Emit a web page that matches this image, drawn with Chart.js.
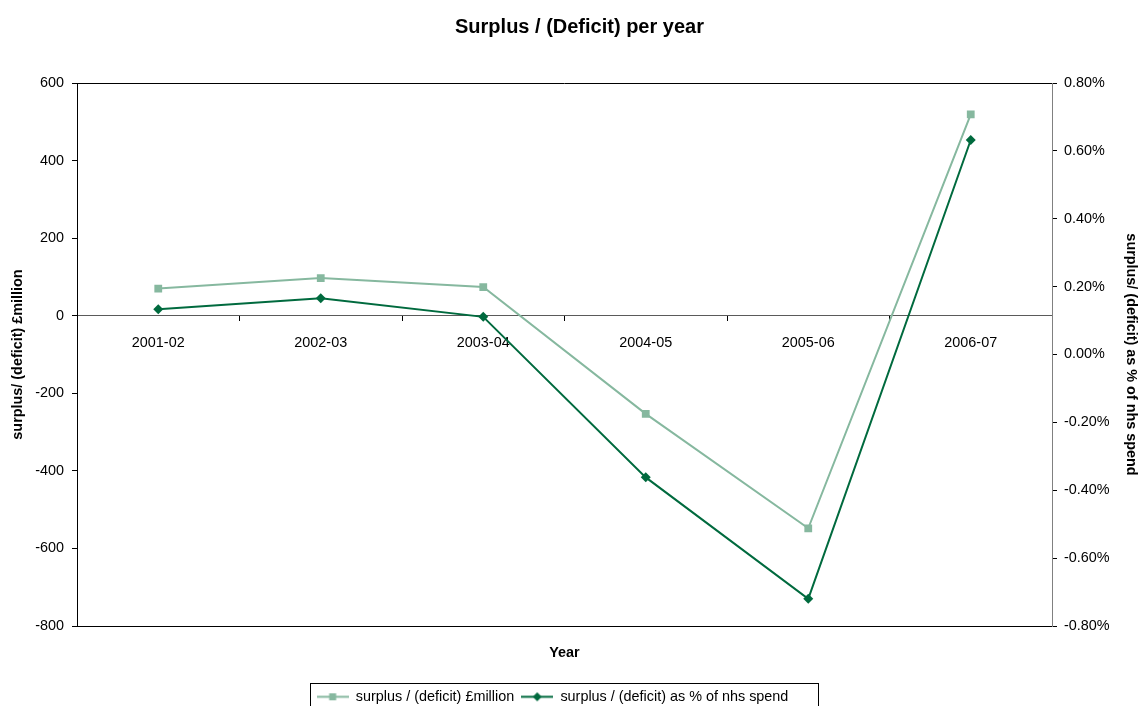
<!DOCTYPE html>
<html>
<head>
<meta charset="utf-8">
<title>Surplus / (Deficit) per year</title>
<script src="https://cdn.jsdelivr.net/npm/chart.js@4/dist/chart.umd.min.js"></script>
<style>
  html, body { margin: 0; padding: 0; background: #fff; overflow: hidden; }
  #chart { display: block; }
</style>
</head>
<body>
<canvas id="chart" width="1140" height="714"></canvas>
<script>
const years = ['2001-02', '2002-03', '2003-04', '2004-05', '2005-06', '2006-07'];
const surplusMillion = [70, 97, 74, -253, -548, 519];
const surplusPct = [0.133, 0.166, 0.111, -0.362, -0.720, 0.632];
const millionTicks = { min: -800, max: 600, step: 200 };
const pctTicks = { min: -0.8, max: 0.8, step: 0.2 };

const LIGHT = '#86b89f';
const DARK = '#006a3e';
const FONT = "'Liberation Sans', Arial, sans-serif";
const TXT = 14.4;

Chart.defaults.font.family = FONT;
Chart.defaults.font.size = TXT;
Chart.defaults.color = '#000';

// little line + marker swatch for the legend, like the spreadsheet one
function swatch(color, style) {
  const c = document.createElement('canvas');
  c.width = 32;
  c.height = 11;
  const g = c.getContext('2d');
  g.strokeStyle = color;
  g.fillStyle = color;
  g.lineWidth = 2;
  g.beginPath();
  g.moveTo(0, 5.5);
  g.lineTo(32, 5.5);
  g.stroke();
  g.beginPath();
  if (style === 'rect') {
    g.rect(12.5, 2, 7, 7);
  } else {
    g.moveTo(16, 1); g.lineTo(20.5, 5.5); g.lineTo(16, 10); g.lineTo(11.5, 5.5); g.closePath();
  }
  g.fill();
  return c;
}
const legendIcons = [swatch(LIGHT, 'rect'), swatch(DARK, 'diamond')];

const framePlugin = {
  id: 'frame',
  afterLayout(chart) {
    // spreadsheet title sits a little right of centre, legend a little left
    if (chart.titleBlock) chart.titleBlock.left = 19;
    const lg = chart.legend;
    if (lg) {
      lg.left -= 24;
      if (typeof lg.adjustHitBoxes === 'function') lg.adjustHitBoxes();
    }
  },
  afterDraw(chart) {
    const { ctx, chartArea: a, legend } = chart;
    ctx.save();
    ctx.strokeStyle = '#000';
    ctx.lineWidth = 1;
    ctx.beginPath();
    ctx.moveTo(a.left, Math.round(a.top) + 0.5);
    ctx.lineTo(a.right, Math.round(a.top) + 0.5);
    ctx.stroke();
    const hb = legend.legendHitBoxes;
    if (hb && hb.length) {
      const last = hb[hb.length - 1];
      const x0 = Math.round(hb[0].left - 7) + 0.5;
      const x1 = Math.round(last.left + last.width + 30) + 0.5;
      const y0 = Math.round(legend.top) + 0.5;
      ctx.strokeRect(x0, y0, x1 - x0, chart.height - y0 + 5);
    }
    ctx.restore();
  },
};

new Chart(document.getElementById('chart'), {
  type: 'line',
  data: {
    labels: years,
    datasets: [
      {
        label: 'surplus / (deficit) £million',
        data: surplusMillion,
        yAxisID: 'y',
        xAxisID: 'x',
        borderColor: LIGHT,
        backgroundColor: LIGHT,
        borderWidth: 2,
        pointStyle: 'rect',
        pointRadius: 5.5,
        pointBorderWidth: 0,
        tension: 0,
      },
      {
        label: 'surplus / (deficit) as % of nhs spend',
        data: surplusPct,
        yAxisID: 'y1',
        xAxisID: 'x',
        borderColor: DARK,
        backgroundColor: DARK,
        borderWidth: 2,
        pointStyle: 'rectRot',
        pointRadius: 5,
        pointBorderWidth: 0,
        tension: 0,
      },
    ],
  },
  options: {
    responsive: false,
    animation: false,
    layout: { padding: 0 },
    plugins: {
      title: {
        display: true,
        text: 'Surplus / (Deficit) per year',
        font: { size: 20, weight: 'bold' },
        color: '#000',
        padding: { top: 15, bottom: 44 },
      },
      legend: {
        position: 'bottom',
        fullSize: false,
        labels: {
          usePointStyle: true,
          pointStyleWidth: 32,
          padding: 7,
          font: { size: TXT },
          color: '#000',
          generateLabels(chart) {
            const items = Chart.defaults.plugins.legend.labels.generateLabels(chart);
            items.forEach((it, i) => { it.pointStyle = legendIcons[i]; });
            return items;
          },
        },
      },
      tooltip: { enabled: false },
    },
    scales: {
      x: {
        type: 'category',
        position: { y: 0 },
        offset: true,
        grid: { offset: true, drawOnChartArea: false, tickLength: 5, color: '#000' },
        border: { color: '#5a5a5a', width: 1 },
        ticks: { maxRotation: 0, autoSkip: false, padding: 14, font: { size: TXT }, color: '#000' },
      },
      x2: {
        type: 'category',
        position: 'bottom',
        offset: true,
        grid: { display: false, drawTicks: false },
        border: { display: true, color: '#000', width: 1 },
        ticks: { display: false },
        title: {
          display: true,
          text: 'Year',
          font: { size: TXT, weight: 'bold' },
          color: '#000',
          padding: { top: 18.3, bottom: 21 },
        },
      },
      y: {
        position: 'left',
        min: millionTicks.min,
        max: millionTicks.max,
        ticks: { stepSize: millionTicks.step, padding: 8, font: { size: TXT }, color: '#000' },
        grid: { drawOnChartArea: false, tickLength: 5, color: '#000' },
        border: { color: '#000', width: 1 },
        title: {
          display: true,
          text: 'surplus/ (deficit) £million',
          font: { size: TXT, weight: 'bold' },
          color: '#000',
          padding: { top: 9.5, bottom: 0 },
        },
        afterFit(scale) { scale.width = 77; },
      },
      y1: {
        position: 'right',
        min: pctTicks.min,
        max: pctTicks.max,
        ticks: {
          stepSize: pctTicks.step,
          padding: 7,
          font: { size: TXT },
          color: '#000',
          callback: (v) => v.toFixed(2) + '%',
        },
        grid: { drawOnChartArea: false, tickLength: 5, color: '#000' },
        border: { color: '#808080', width: 1 },
        title: {
          display: true,
          text: 'surplus/ (deficit) as % of nhs spend',
          font: { size: TXT, weight: 'bold' },
          color: '#000',
          padding: { top: 0, bottom: 0 },
        },
        afterFit(scale) { scale.width = 88; },
      },
    },
  },
  plugins: [framePlugin],
});
</script>
</body>
</html>
